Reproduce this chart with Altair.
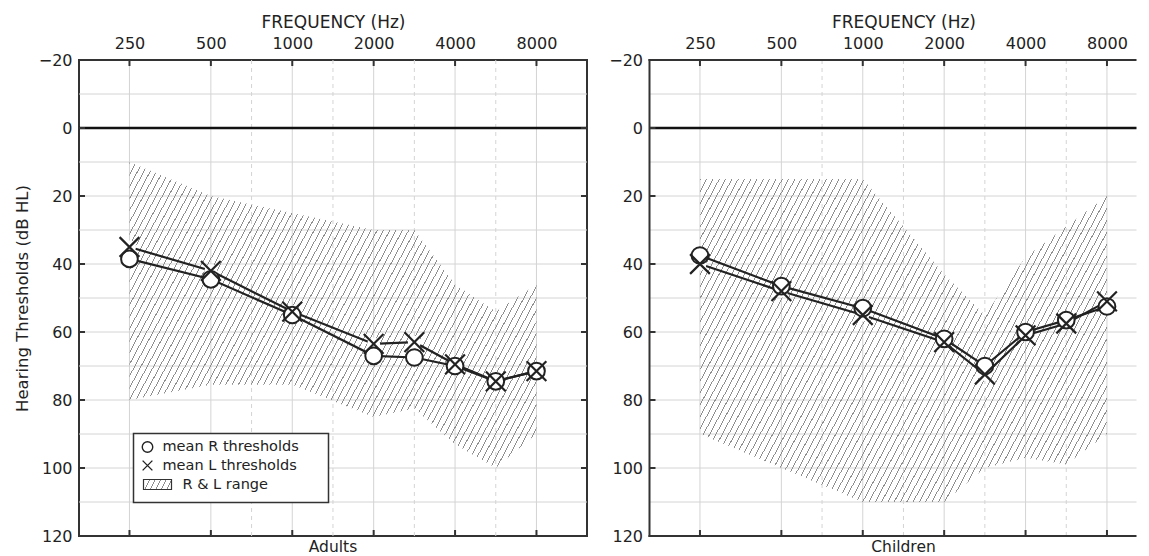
import numpy as np
import pandas as pd
import altair as alt

# ---------------- data ----------------
freqs = [250, 500, 1000, 2000, 3000, 4000, 6000, 8000]

adults_r = [38.5, 44.5, 55, 67, 67.5, 70, 74.5, 71.5]
adults_l = [35, 42, 54, 63.5, 63, 69.5, 74.5, 71.5]
adults_range_top = [10, 20, 25, 30, 30, 46, 54, 46]
adults_range_bottom = [80, 75.5, 75.5, 85, 82.5, 93, 100, 90]

children_r = [37.5, 46.5, 53, 62, 70, 60, 56.5, 52.5]
children_l = [40, 48, 55, 63, 72.5, 61, 57.5, 51]
children_range_top = [15, 15, 15, 43, 55, 38, 29, 20]
children_range_bottom = [90, 100, 110, 110, 100, 97, 99, 90]

freq_ticks = [250, 500, 1000, 2000, 4000, 8000]
freq_mid = [750, 1500, 3000, 6000]
db_ticks = [-20, 0, 20, 40, 60, 80, 100, 120]
db_minor = [-10, 10, 20, 30, 40, 50, 60, 70, 80, 90, 100, 110]
zero_line = [0]
legend_labels = ["mean R thresholds", "mean L thresholds", "R & L range"]
panel_titles = ["Adults", "Children"]
y_title = "Hearing Thresholds (dB HL)"
x_title = "FREQUENCY (Hz)"

# ---------------- styling ----------------
PX_OCT = 81.4          # pixels per octave
EXT_L = 0.62           # octaves of margin left of 250 Hz
W_FULL = 508           # full panel width (right panel is cut by the page edge)
H = 476
FONT = "DejaVu Sans"
INK = "#222222"
GRID = "#d4d4d4"
EDGE = "#333333"
Y_DOMAIN = [-20, 120]
# audiogram convention: inter-octave frequencies sit half way between octaves
SNAP = "250*pow(2, round(2*log(datum.freq/250)/LN2)/2)"
XPATH = "M-1,-1L1,1M-1,1L1,-1"


def hatch(wpx, hpx, angle=62.0, spacing=6.3, lw=0.9, color="#8f8f8f"):
    th = np.radians(angle)
    nx, ny = np.sin(th), np.cos(th)
    L = nx * wpx + ny * hpx
    s = L / (nx ** 2 * wpx ** 2 + ny ** 2 * hpx ** 2)
    p = spacing * np.sin(th)
    clear = "rgba(255,255,255,0)"
    stops = []
    k = 0
    while k * p < L:
        a = k * p / L
        b = min((k * p + lw) / L, 1.0)
        c = min((k + 1) * p / L, 1.0)
        stops += [(a, color), (b, color), (b, clear), (c, clear)]
        k += 1
    return alt.LinearGradient(
        gradient="linear",
        stops=[alt.GradientStop(color=cc, offset=float(o)) for o, cc in stops],
        x1=0, y1=0, x2=float(nx * wpx * s), y2=float(ny * hpx * s),
    )


def panel(r, l, top, bottom, title, W, with_ytitle, with_legend, right_edge):
    ext_r = W / PX_OCT - 5 - EXT_L
    x_domain = [250 / 2 ** EXT_L, 8000 * 2 ** ext_r]
    df = pd.DataFrame({"freq": freqs, "r": r, "l": l, "top": top, "bottom": bottom})
    xs = alt.Scale(type="log", domain=x_domain, nice=False)
    ys = alt.Scale(domain=Y_DOMAIN, reverse=True, nice=False, zero=False)
    x_axis = alt.Axis(orient="top", values=freq_ticks, format="d", title=x_title,
                      ticks=False, domain=False, grid=False, labelPadding=8.5,
                      titlePadding=4, labelFlush=False, labelOverlap=False,
                      titleX=W_FULL / 2, titleAlign="center",
                      labelFont=FONT, titleFont=FONT, labelFontSize=16,
                      titleFontSize=17, titleFontWeight="normal",
                      labelColor=INK, titleColor=INK)
    y_axis = alt.Axis(orient="left", values=db_ticks, format="d",
                      title=(y_title if with_ytitle else None),
                      ticks=False, domain=False, grid=False, labelPadding=7,
                      titlePadding=8, labelFlush=False, labelOverlap=False,
                      labelFont=FONT, titleFont=FONT, labelFontSize=16,
                      titleFontSize=16.5, titleFontWeight="normal",
                      labelColor=INK, titleColor=INK)

    def X(f):
        return alt.X(f"{f}:Q", scale=xs, axis=x_axis)

    def Y(f):
        return alt.Y(f"{f}:Q", scale=ys, axis=y_axis)

    fdf = lambda vals: pd.DataFrame({"freq": vals})
    ddf = lambda vals: pd.DataFrame({"db": vals})

    grid_h = alt.Chart(ddf(db_minor)).mark_rule(color=GRID, strokeWidth=1).encode(y=Y("db"))
    grid_v = (alt.Chart(fdf(freq_ticks)).transform_calculate(fx=SNAP)
              .mark_rule(color=GRID, strokeWidth=1).encode(x=X("fx")))
    grid_vd = (alt.Chart(fdf(freq_mid)).transform_calculate(fx=SNAP)
               .mark_rule(color=GRID, strokeWidth=1, strokeDash=[4, 4]).encode(x=X("fx")))
    zero = alt.Chart(ddf(zero_line)).mark_rule(color="#111111", strokeWidth=2.5).encode(y=Y("db"))

    aw = np.log2(max(freqs) / min(freqs)) * PX_OCT
    ah = (max(bottom) - min(top)) * H / (Y_DOMAIN[1] - Y_DOMAIN[0])
    area = (alt.Chart(df).transform_calculate(fx=SNAP)
            .mark_area(fill=hatch(aw, ah), strokeWidth=0)
            .encode(x=X("fx"), y=Y("top"), y2=alt.Y2("bottom")))

    base = alt.Chart(df).transform_calculate(fx=SNAP)
    line_r = base.mark_line(color=INK, strokeWidth=2.2).encode(x=X("fx"), y=Y("r"))
    line_l = base.mark_line(color=INK, strokeWidth=2.2).encode(x=X("fx"), y=Y("l"))
    halo_l = base.mark_circle(color="white", size=170, opacity=1).encode(x=X("fx"), y=Y("l"))
    pts_r = base.mark_point(shape="circle", size=280, fill="white", stroke=INK,
                            strokeWidth=2, opacity=1, filled=False).encode(x=X("fx"), y=Y("r"))
    pts_l = base.mark_point(shape=XPATH, size=390, stroke=INK, strokeWidth=2.2,
                            opacity=1, filled=False).encode(x=X("fx"), y=Y("l"))

    tick_top = (alt.Chart(fdf(freq_ticks)).transform_calculate(fx=SNAP)
                .mark_rule(color=EDGE, strokeWidth=2)
                .encode(x=X("fx"), y=alt.value(0), y2=alt.value(6)))
    tick_bot = (alt.Chart(fdf(freq_ticks)).transform_calculate(fx=SNAP)
                .mark_rule(color=EDGE, strokeWidth=2)
                .encode(x=X("fx"), y=alt.value(H), y2=alt.value(H - 6)))
    tick_left = (alt.Chart(ddf(db_ticks)).mark_rule(color=EDGE, strokeWidth=2)
                 .encode(y=Y("db"), x=alt.value(0), x2=alt.value(6)))

    layers = [grid_h, grid_v, grid_vd, zero, area, line_r, line_l, halo_l,
              pts_r, pts_l, tick_top, tick_bot, tick_left]

    if right_edge:
        tick_right = (alt.Chart(ddf(db_ticks)).mark_rule(color=EDGE, strokeWidth=2)
                      .encode(y=Y("db"), x=alt.value(W - 6), x2=alt.value(W)))
        layers.append(tick_right)
    else:
        # frame drawn on three sides only (the right side is cut off in the source)
        one = ddf(zero_line)
        b_top = alt.Chart(one).mark_rule(color=EDGE, strokeWidth=2).encode(
            x=alt.value(-1), x2=alt.value(W), y=alt.value(0))
        b_bot = alt.Chart(one).mark_rule(color=EDGE, strokeWidth=2).encode(
            x=alt.value(-1), x2=alt.value(W), y=alt.value(H))
        b_left = alt.Chart(one).mark_rule(color=EDGE, strokeWidth=2).encode(
            x=alt.value(0), y=alt.value(-1), y2=alt.value(H + 1))
        layers += [b_top, b_bot, b_left]

    if with_legend:
        ldf = lambda i: pd.DataFrame({"label": [legend_labels[i]]})
        box = (alt.Chart(ldf(0)).mark_rect(fill="white", stroke=EDGE, strokeWidth=1.5)
               .encode(x=alt.value(54.5), x2=alt.value(249.5),
                       y=alt.value(373.5), y2=alt.value(442.5)))
        sym_r = (alt.Chart(ldf(0)).mark_point(shape="circle", size=110, stroke=INK,
                                              strokeWidth=1.4, opacity=1, filled=False)
                 .encode(x=alt.value(68.5), y=alt.value(387)))
        sym_l = (alt.Chart(ldf(1)).mark_point(shape=XPATH, size=95, stroke=INK,
                                              strokeWidth=1.4, opacity=1, filled=False)
                 .encode(x=alt.value(68.5), y=alt.value(405.5)))
        sw = (alt.Chart(ldf(2)).mark_rect(fill=hatch(28, 10, angle=65, spacing=5.5),
                                          stroke=EDGE, strokeWidth=1.2)
              .encode(x=alt.value(64.5), x2=alt.value(92.5),
                      y=alt.value(419.5), y2=alt.value(429.5)))
        txt = lambda i, xx, yy: (alt.Chart(ldf(i))
                                 .mark_text(align="left", baseline="middle", font=FONT,
                                            fontSize=14.5, color=INK)
                                 .encode(x=alt.value(xx), y=alt.value(yy), text="label:N"))
        layers += [box, sym_r, sym_l, sw, txt(0, 83.5, 387), txt(1, 83.5, 405.5),
                   txt(2, 103.5, 424.5)]

    props = dict(
        width=W, height=H,
        title=alt.TitleParams(text=title, orient="bottom", anchor="middle", frame="group",
                              offset=-4.5, dx=(W_FULL - W) / 2, font=FONT, fontSize=15.5,
                              fontWeight="normal", color=INK),
    )
    if not right_edge:
        props["view"] = alt.ViewBackground(strokeWidth=0)
    return alt.layer(*layers).properties(**props)


left = panel(adults_r, adults_l, adults_range_top, adults_range_bottom,
             panel_titles[0], W_FULL, True, True, True)
right = panel(children_r, children_l, children_range_top, children_range_bottom,
              panel_titles[1], 487, False, False, False)

chart = (alt.hconcat(left, right, spacing=18.5)
         .resolve_scale(x="independent", y="independent")
         .properties(padding={"left": 5, "top": 4, "right": 0, "bottom": 0},
                     background="white")
         .configure_view(stroke=EDGE, strokeWidth=2))

chart.save("out.html", embed_options={"renderer": "svg", "actions": False})
